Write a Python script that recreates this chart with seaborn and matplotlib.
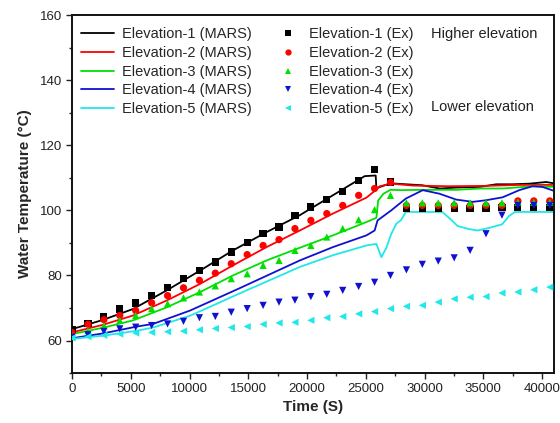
import numpy as np
import pandas as pd
import matplotlib
matplotlib.use("Agg")
import matplotlib.pyplot as plt
import seaborn as sns
from matplotlib.lines import Line2D
from matplotlib.ticker import MultipleLocator

sns.set_theme(style="ticks")
plt.rcParams['font.family'] = ['Liberation Sans', 'DejaVu Sans']

# ---------------- data ----------------
# MARS simulation lines
t_mars1 = [0, 2600, 5200, 8060, 10900, 13700, 16550, 19380, 24900, 25840, 25900, 27100,
           28400, 29800, 31300, 32700, 34680, 36100, 37500, 38950, 40350, 41000]
T_mars1 = [63.5, 66.3, 69.7, 75.4, 81.5, 87.7, 93.3, 98.5, 110.5, 110.7, 106.8, 108.3,
           108.0, 107.7, 106.7, 107.0, 107.2, 108.0, 108.0, 108.2, 108.7, 108.3]

t_mars2 = [0, 2600, 5200, 8060, 10900, 13700, 16550, 19380, 22200, 25050, 25840, 26200, 27170,
           29000, 32000, 35000, 38000, 41000]
T_mars2 = [62.5, 64.8, 67.7, 72.3, 77.4, 83.1, 88.7, 93.8, 99.0, 103.9, 106.2, 107.4, 108.2,
           107.6, 107.4, 107.5, 107.8, 107.8]

t_mars3 = [0, 2600, 5200, 8060, 10900, 13700, 16550, 19380, 22200, 25050, 25900, 26050, 26500,
           27100, 28000, 29850, 32700, 34700, 36640, 39200, 41000]
T_mars3 = [62.0, 63.9, 66.2, 70.2, 74.9, 80.0, 84.6, 88.5, 92.3, 96.4, 97.7, 103.0, 105.1,
           106.3, 106.2, 106.3, 106.3, 106.7, 106.7, 107.4, 107.2]

t_mars4 = [0, 2660, 5520, 6900, 10040, 14280, 19380, 22200, 25050, 25750, 26000, 27170, 28400,
           29850, 31270, 32690, 34100, 35230, 36640, 38060, 39190, 40020, 41000]
T_mars4 = [60.7, 62.2, 64.3, 65.1, 69.2, 76.1, 84.6, 88.7, 92.3, 93.8, 96.9, 100.0, 103.6,
           106.2, 105.1, 103.3, 102.6, 103.1, 104.0, 106.2, 107.4, 107.2, 106.0]

t_mars5 = [0, 2660, 5520, 6900, 10040, 14280, 19380, 22200, 25050, 25900, 26320, 26750, 27170,
           27600, 28000, 28400, 31500, 32300, 32800, 33700, 34500, 35500, 36600, 37200, 37700, 41000]
T_mars5 = [60.5, 61.5, 63.0, 64.0, 67.6, 74.5, 82.6, 86.2, 89.2, 89.7, 85.6, 88.5, 92.8,
           95.9, 97.0, 99.5, 99.5, 97.0, 95.2, 94.3, 93.8, 94.6, 95.7, 98.3, 99.5, 99.5]

# Experimental data (shared time grid)
t_ex = [0, 1355, 2710, 4065, 5420, 6775, 8130, 9485, 10840, 12195, 13550, 14905, 16260,
        17615, 18970, 20325, 21680, 23035, 24390, 25745, 27100, 28455, 29810, 31165, 32520,
        33875, 35230, 36585, 37940, 39295, 40650]
T_ex1 = [63.5, 65.2, 67.2, 69.7, 71.5, 73.8, 76.2, 79.0, 81.5, 84.1, 87.2, 90.0, 92.8, 94.9,
         98.5, 101.0, 103.3, 105.9, 109.2, 112.5, 108.7, 100.6, 100.6, 100.6, 100.6, 100.6,
         100.6, 100.8, 100.8, 100.8, 100.8]
T_ex2 = [62.5, 65.0, 66.4, 67.7, 69.2, 71.6, 73.8, 76.2, 78.5, 80.7, 83.6, 86.4, 89.2, 91.0,
         94.4, 96.9, 99.0, 101.5, 104.6, 106.7, 108.6, 101.5, 101.5, 101.5, 101.5, 101.5,
         101.5, 101.5, 102.9, 102.9, 102.9]
T_ex3 = [61.5, 63.0, 64.6, 66.2, 67.7, 69.8, 71.3, 73.1, 74.9, 76.8, 79.0, 80.5, 83.1, 84.6,
         87.7, 89.2, 91.8, 94.4, 97.1, 100.2, 104.6, 102.3, 102.3, 102.3, 102.3, 102.3,
         102.3, 102.3, 102.5, 102.5, 102.5]
T_ex4 = [61.0, 61.8, 62.8, 63.6, 64.1, 64.6, 65.1, 65.9, 67.0, 67.4, 68.7, 69.8, 70.8, 71.8,
         72.4, 73.5, 74.2, 75.4, 76.6, 77.9, 80.0, 81.7, 83.4, 84.4, 85.4, 87.7, 92.8, 98.5,
         101.5, 101.5, 101.5]
T_ex5 = [60.8, 61.2, 61.6, 62.0, 62.3, 62.5, 62.7, 62.9, 63.3, 63.7, 64.0, 64.3, 65.0, 65.4,
         65.6, 66.2, 67.0, 67.4, 68.2, 68.9, 69.8, 70.5, 70.8, 71.8, 72.8, 73.3, 73.5, 74.6,
         74.9, 75.6, 76.4]

names = ["Elevation-1", "Elevation-2", "Elevation-3", "Elevation-4", "Elevation-5"]
colors = ["#000000", "#ff0000", "#00e000", "#1010d0", "#20e8e8"]
markers = ["s", "o", "^", "v", "<"]

mars = [(t_mars1, T_mars1), (t_mars2, T_mars2), (t_mars3, T_mars3), (t_mars4, T_mars4), (t_mars5, T_mars5)]
exps = [T_ex1, T_ex2, T_ex3, T_ex4, T_ex5]

# ---------------- plot ----------------
fig = plt.figure(figsize=(5.6, 4.23), dpi=100)
ax = fig.add_axes([0.1286, 0.118, 0.8604, 0.8465])

line_handles = []
for name, col, (tt, TT) in zip(names, colors, mars):
    df = pd.DataFrame({"t": tt, "T": TT})
    sns.lineplot(data=df, x="t", y="T", ax=ax, color=col, lw=1.3, estimator=None, sort=False,
                 legend=False)
    line_handles.append(Line2D([], [], color=col, lw=1.3, label=f"{name} (MARS)"))

mk_handles = []
for name, col, mk, TT in zip(names, colors, markers, exps):
    df = pd.DataFrame({"t": t_ex, "T": TT})
    sns.scatterplot(data=df, x="t", y="T", ax=ax, color=col, marker=mk, s=27,
                    edgecolor="none", legend=False, zorder=3)
    mk_handles.append(Line2D([], [], color=col, marker=mk, ls="none", markersize=4.5,
                             markeredgewidth=0, label=f"{name} (Ex)"))

ax.set_xlim(0, 41000)
ax.set_ylim(50, 160)
ax.xaxis.set_major_locator(MultipleLocator(5000))
ax.xaxis.set_minor_locator(MultipleLocator(2500))
ax.yaxis.set_major_locator(MultipleLocator(20))
ax.yaxis.set_minor_locator(MultipleLocator(10))
ax.set_yticks([60, 80, 100, 120, 140, 160])
ax.tick_params(axis="both", which="major", direction="out", length=4, width=1, labelsize=9.5,
               colors="#222222", pad=3)
ax.tick_params(axis="both", which="minor", direction="out", length=2.5, width=1)
for sp in ax.spines.values():
    sp.set_visible(True)
    sp.set_linewidth(1.4)
    sp.set_color("#111111")

ax.set_xlabel("Time (S)", fontsize=11, fontweight="bold", labelpad=4)
ax.set_ylabel("Water Temperature (\u00b0C)", fontsize=11, fontweight="bold", labelpad=6)

leg1 = ax.legend(handles=line_handles, loc="upper left", bbox_to_anchor=(0.0, 0.99),
                 frameon=False, fontsize=10.5, handlelength=2.3, handletextpad=0.55,
                 labelspacing=0.32, borderaxespad=0.2)
ax.add_artist(leg1)
leg2 = ax.legend(handles=mk_handles, loc="upper left", bbox_to_anchor=(0.415, 0.99),
                 frameon=False, fontsize=10.5, handlelength=1.0, handletextpad=0.95,
                 labelspacing=0.32, borderaxespad=0.2)

ax.text(0.745, 0.948, "Higher elevation", transform=ax.transAxes, fontsize=10.5,
        color="#222222", va="center", ha="left")
ax.text(0.745, 0.742, "Lower elevation", transform=ax.transAxes, fontsize=10.5,
        color="#222222", va="center", ha="left")

fig.savefig("out.png", dpi=100)
